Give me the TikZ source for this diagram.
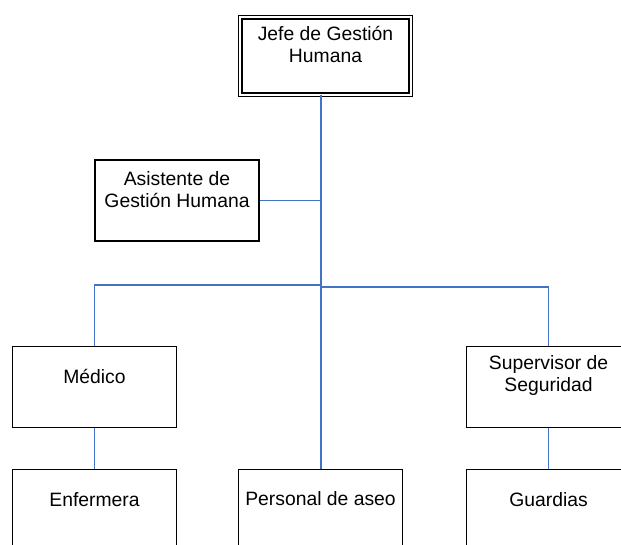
\documentclass[tikz,border=0pt]{standalone}
\usepackage{fontspec}
\setmainfont{Liberation Sans}
\usetikzlibrary{positioning}
\definecolor{lineaazul}{RGB}{68,114,196}

\begin{document}
\begin{tikzpicture}[x=0.75pt,y=-0.75pt,
    kasten/.style={draw,line width=1.1pt,minimum width=123pt,minimum height=61pt,inner sep=0pt},
    etiqueta/.style={align=center,font=\fontsize{14.5}{16.5}\selectfont,yshift=8.25pt},
    verbindung/.style={draw=lineaazul,line width=1.2pt}]
    \useasboundingbox (0,0) rectangle (621,545);
    \clip (0,0) rectangle (621,545);

    \node[draw,double,double distance=1.6pt,line width=0.9pt,minimum width=127.8pt,minimum height=58.1pt,
          label={[etiqueta,yshift=0.75pt]center:Jefe de Gestión\\Humana}] (jefe) at (325.5,56) {};
    \node[kasten,label={[etiqueta]center:Asistente de\\Gestión Humana}] (asist) at (177,200.5) {};

    \node[kasten,label={[etiqueta]center:Médico}] (medico) at (94.5,387) {};
    \node[kasten,label={[etiqueta]center:Supervisor de\\Seguridad}] (superv) at (548.5,387) {};

    \node[kasten,below = 30.4pt of medico,label={[etiqueta]center:Enfermera}] (enfer) {};
    \node[kasten,label={[etiqueta]center:Personal de aseo}] (aseo) at (320.5,510) {};
    \node[kasten,below = 30.4pt of superv,label={[etiqueta]center:Guardias}] (guard) {};

    \coordinate (busl) at (321,285);
    \coordinate (busr) at (321,287);

    %Tronco
    \draw[verbindung,line width=1.7pt] (jefe.south -| busl) -- (busr);
    \draw[verbindung,line width=1pt] (busr) -- (aseo.north -| busr);
    \draw[verbindung] (asist.east) -- (asist.east -| busl);

    \draw[verbindung] (medico.north) |- (busl);
    \draw[verbindung] (busr) -| (superv.north);

    \draw[verbindung,line width=1pt] (medico) -- (enfer);
    \draw[verbindung,line width=1pt] (superv) -- (guard);
\end{tikzpicture}
\end{document}
